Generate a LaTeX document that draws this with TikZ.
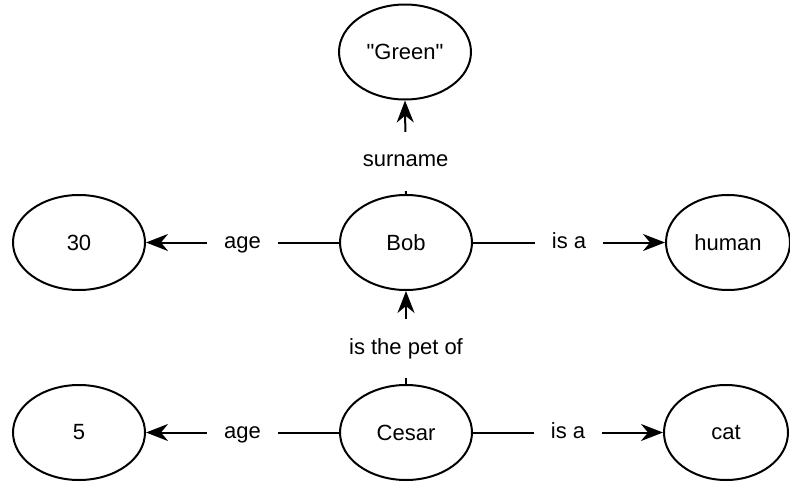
\documentclass[tikz,border=0pt]{standalone}
\usepackage{fontspec}
\setmainfont{Liberation Sans}[Ligatures=TeXOff]
\usetikzlibrary{shapes.geometric,arrows.meta}
\begin{document}
\begin{tikzpicture}[x=1pt,y=1pt,
  every node/.style={font=\fontsize{22}{26}\selectfont},
  term/.style={ellipse,draw,line width=2pt,minimum width=132pt,minimum height=95pt,inner sep=0pt},
  rel/.style={line width=2pt,-{Stealth[length=22pt,width=17pt,inset=7pt]}},
  lbl/.style={fill=white,inner xsep=17pt,inner ysep=19pt,text height=16pt,text depth=5pt}]
  \useasboundingbox (0,0) rectangle (790,-482);

  % resources and literals
  \node[term] (green) at (405,-52) {"Green"};
  \node[term] (bob)   at (406,-242.5) {Bob};
  \node[term] (a30)   at (79,-242.5) {30};
  \node[term,minimum width=124pt] (human) at (728,-242.5) {human};
  \node[term] (cesar) at (406,-432.5) {Cesar};
  \node[term] (a5)    at (79,-432.5) {5};
  \node[term,minimum width=124pt] (cat) at (726,-432.5) {cat};

  % properties
  \draw[rel] (bob) -- node[lbl] {age} (a30);
  \draw[rel] (bob) -- node[lbl] {is a} (human);
  \draw[rel] (bob.north) -- node[lbl,pos=0.35] {surname} (green.south);
  \draw[rel] (cesar) -- node[lbl] {age} (a5);
  \draw[rel] (cesar) -- node[lbl] {is a} (cat);
  \draw[rel] (cesar.north) -- node[lbl,pos=0.38] {is the pet of} (bob.south);
\end{tikzpicture}
\end{document}
